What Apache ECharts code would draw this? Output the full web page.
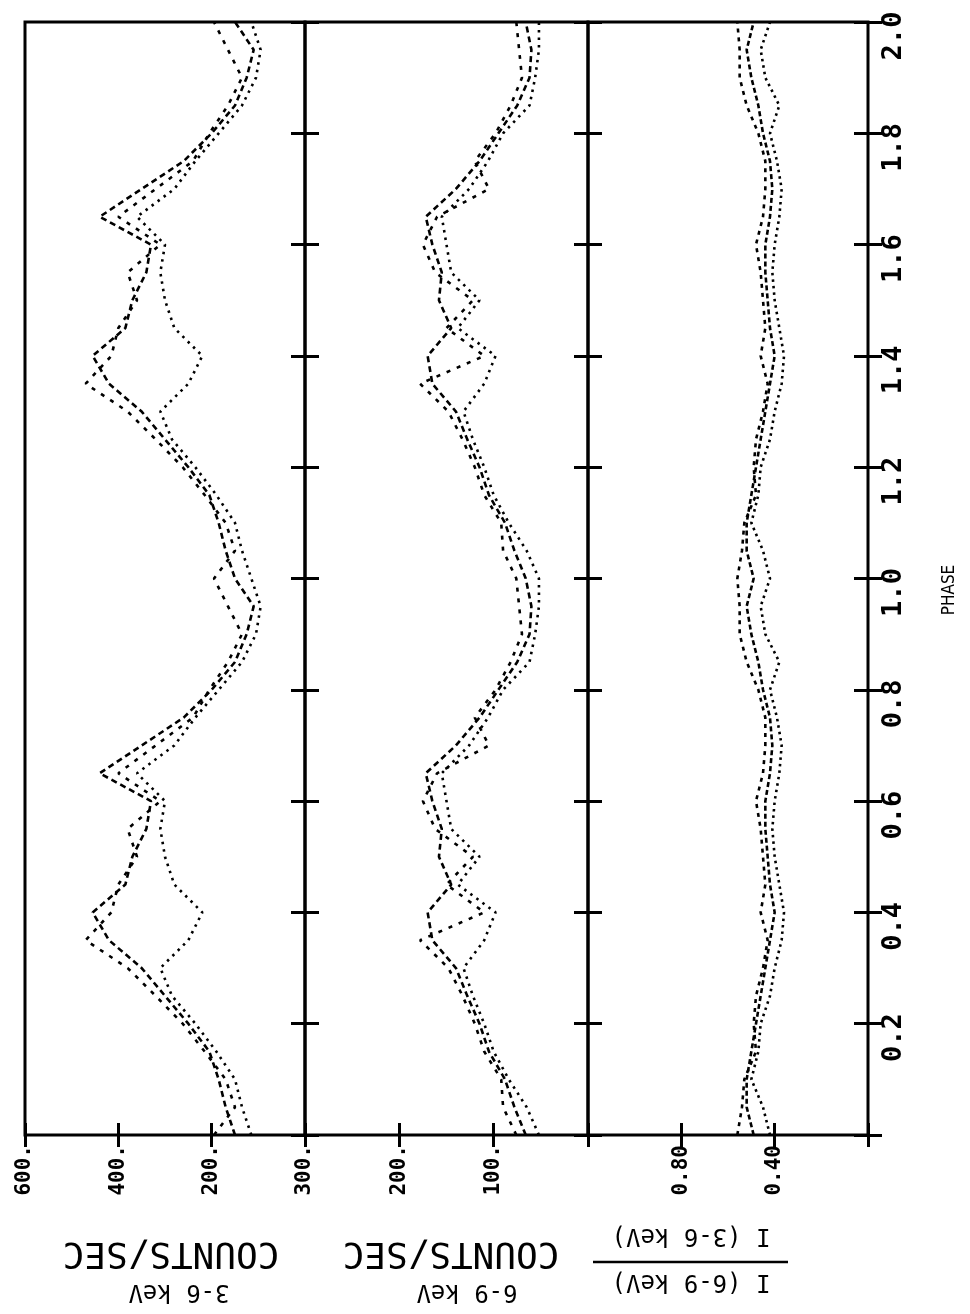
<!DOCTYPE html>
<html><head><meta charset="utf-8">
<script src="https://cdn.jsdelivr.net/npm/echarts@6/dist/echarts.min.js"></script>
<style>html,body{margin:0;padding:0;background:#fff;}#c{width:970px;height:1314px;}</style>
</head><body><div id="c"></div>
<script>
// Phase (0 .. 2, folded light curve shown twice)
const PHASE = [0.00,0.05,0.10,0.15,0.20,0.25,0.30,0.35,0.40,0.45,0.50,0.55,0.60,0.65,0.70,0.75,0.80,0.85,0.90,0.95,1.00,
               1.05,1.10,1.15,1.20,1.25,1.30,1.35,1.40,1.45,1.50,1.55,1.60,1.65,1.70,1.75,1.80,1.85,1.90,1.95,2.00];

// 3-6 keV counts/sec (three overlapping traces)
const LO_A = [150,170,185,205,250,300,350,420,455,385,370,340,330,440,350,260,200,150,125,110,150,
              170,185,205,250,300,350,420,455,385,370,340,330,440,350,260,200,150,125,110,150];
const LO_B = [115,135,150,190,235,285,310,250,220,280,300,310,300,360,280,235,185,135,105,95,115,
              135,150,190,235,285,310,250,220,280,300,310,300,360,280,235,185,135,105,95,115];
const LO_C = [195,150,170,215,262,320,380,470,415,400,360,380,310,400,320,240,205,165,135,165,195,
              150,170,215,262,320,380,470,415,400,360,380,310,400,320,240,205,165,135,165,195];

// 6-9 keV counts/sec
const HI_A = [66,78,88,105,115,128,140,165,170,145,158,155,165,172,140,115,95,75,62,60,66,
              78,88,105,115,128,140,165,170,145,158,155,165,172,140,115,95,75,62,60,66];
const HI_B = [52,65,84,100,110,122,132,110,98,138,115,145,150,155,126,106,90,62,56,52,52,
              65,84,100,110,122,132,110,98,138,115,145,150,155,126,106,90,62,56,52,52];
const HI_C = [76,90,92,110,120,133,148,178,110,150,122,162,175,160,105,120,98,82,70,73,76,
              90,92,110,120,133,148,178,110,150,122,162,175,160,105,120,98,82,70,73,76];

// Hardness ratio I(6-9 keV)/I(3-6 keV)
const R_A = [0.49,0.52,0.52,0.50,0.48,0.46,0.44,0.42,0.40,0.42,0.43,0.44,0.44,0.42,0.41,0.42,0.45,0.47,0.50,0.52,0.49,
             0.52,0.52,0.50,0.48,0.46,0.44,0.42,0.40,0.42,0.43,0.44,0.44,0.42,0.41,0.42,0.45,0.47,0.50,0.52,0.49];
const R_B = [0.42,0.45,0.50,0.47,0.46,0.42,0.40,0.37,0.36,0.38,0.40,0.41,0.40,0.38,0.37,0.39,0.42,0.38,0.44,0.46,0.42,
             0.45,0.50,0.47,0.46,0.42,0.40,0.37,0.36,0.38,0.40,0.41,0.40,0.38,0.37,0.39,0.42,0.38,0.44,0.46,0.42];
const R_C = [0.56,0.54,0.53,0.48,0.49,0.48,0.45,0.43,0.46,0.44,0.45,0.46,0.48,0.45,0.44,0.44,0.47,0.52,0.55,0.55,0.56,
             0.54,0.53,0.48,0.49,0.48,0.45,0.43,0.46,0.44,0.45,0.46,0.48,0.45,0.44,0.44,0.47,0.52,0.55,0.55,0.56];

// Tick labels
const PHASE_LABELS = ['0.2','0.4','0.6','0.8','1.0','1.2','1.4','1.6','1.8','2.0'];
const LO_LABELS = ['600.','400.','200.'];
const HI_LABELS = ['300.','200.','100.'];
const R_LABELS = ['0.80','0.40'];

const chart = echarts.init(document.getElementById('c'), null, {renderer:'canvas'});
const MONO = '"DejaVu Sans Mono", "Liberation Mono", monospace';
const TOP = 22, H = 1113;
const grids = [
  {left:25, top:TOP, width:280, height:H},
  {left:305, top:TOP, width:283, height:H},
  {left:588, top:TOP, width:280, height:H}
];
const ranges = [
  {max:600, interval:200, labels:LO_LABELS, vals:[600,400,200]},
  {max:300, interval:100, labels:HI_LABELS, vals:[300,200,100]},
  {max:1.2, interval:0.4, labels:R_LABELS, vals:[0.8,0.4]}
];
function fmtFor(r){
  return function(v){
    for (let i=0;i<r.vals.length;i++) if (Math.abs(v-r.vals[i])<1e-6) return r.labels[i];
    return '';
  };
}
function phaseFmt(v){
  const i = Math.round(v/0.2)-1;
  if (i>=0 && i<PHASE_LABELS.length && Math.abs(v-(i+1)*0.2)<1e-6) return PHASE_LABELS[i];
  return '';
}
const xAxis = [], yAxis = [];
grids.forEach((g,i)=>{
  const r = ranges[i];
  ['bottom','top'].forEach(pos=>{
    xAxis.push({type:'value', gridIndex:i, position:pos, inverse:true, min:0, max:r.max, interval:r.interval,
      axisLine:{show:false}, splitLine:{show:false},
      axisTick:{show:true, inside:true, length:12, lineStyle:{color:'#000', width:3}},
      axisLabel:{show:pos==='bottom', rotate:90, margin:10, color:'#000', fontFamily:MONO, fontWeight:'bold', fontSize:21,
        padding:[0,0,8,0], formatter:fmtFor(r)}
    });
  });
  ['left','right'].forEach(pos=>{
    yAxis.push({type:'value', gridIndex:i, position:pos, min:0, max:2, interval:0.2,
      axisLine:{show:false}, splitLine:{show:false},
      axisTick:{show:true, inside:true, length:14, lineStyle:{color:'#000', width:3}},
      axisLabel:{show:(i===2 && pos==='right'), rotate:90, margin:12, color:'#000', fontFamily:MONO, fontWeight:'bold', fontSize:27,
        padding:[0,28,0,0], formatter:phaseFmt}
    });
  });
});
function mk(vals, gi, dash, w){
  return {type:'line', xAxisIndex:gi*2, yAxisIndex:gi*2, symbol:'none', silent:true,
    data: vals.map((v,k)=>[v, PHASE[k]]),
    lineStyle:{color:'#000', width:w||2.6, type:dash}};
}
const series = [
  mk(LO_A,0,[6,4]), mk(LO_B,0,[2.5,5]), mk(LO_C,0,[4,7]),
  mk(HI_A,1,[6,4]), mk(HI_B,1,[2.5,5]), mk(HI_C,1,[4,7]),
  mk(R_A,2,[5,3]), mk(R_B,2,[2.5,4]), mk(R_C,2,[4,5])
];
function txt(x,y,text,size,rot,family,weight){
  return {type:'text', x:x, y:y, rotation:rot, silent:true,
    style:{text:text, x:0, y:0, textAlign:'center', textVerticalAlign:'middle', align:'center', verticalAlign:'middle',
      font:(weight||'normal')+' '+size+'px '+(family||MONO), fill:'#000'}};
}
const graphic = [
  txt(171,1252,'COUNTS/SEC',36,Math.PI),
  txt(179,1291,'3-6 keV',24,Math.PI),
  txt(451,1252,'COUNTS/SEC',36,Math.PI),
  txt(467,1291,'6-9 keV',24,Math.PI),
  txt(691,1235,'I (3-6 keV)',24,Math.PI),
  txt(691,1281,'I (6-9 keV)',24,Math.PI),
  {type:'line', silent:true, shape:{x1:593,y1:1262,x2:788,y2:1262}, style:{stroke:'#000', lineWidth:2.5}},
  txt(950,590,'PHASE',17,Math.PI/2,'"DejaVu Sans Condensed", "Liberation Sans", sans-serif')
];
chart.setOption({
  animation:false,
  backgroundColor:'#fff',
  grid: grids.map(g=>Object.assign({show:true, borderColor:'#000', borderWidth:3, backgroundColor:'transparent', containLabel:false, outerBoundsMode:'none'}, g)),
  xAxis, yAxis, series, graphic
});
</script></body></html>
